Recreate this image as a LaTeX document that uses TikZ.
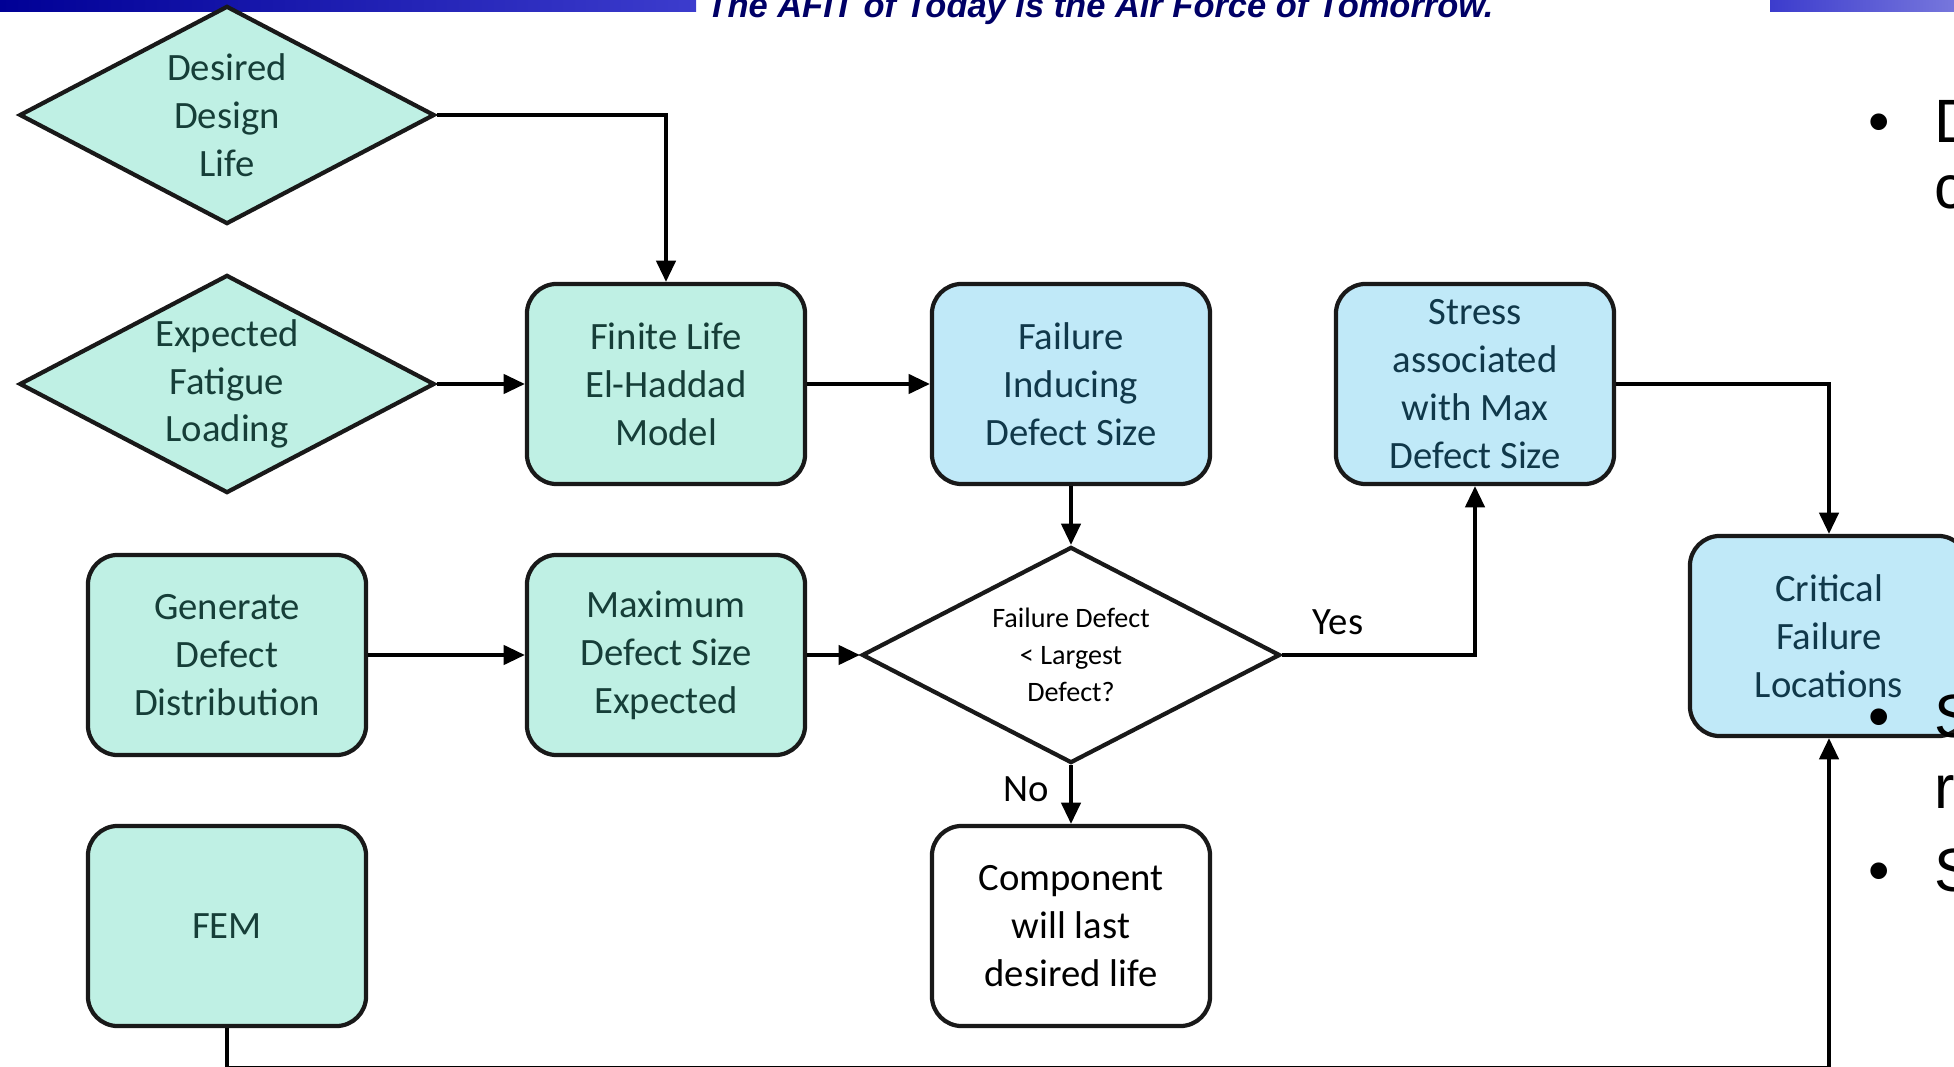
\documentclass[tikz,border=0pt]{standalone}
\usepackage{fontspec}
\setmainfont{Carlito}
\newfontfamily\slidefont{Liberation Sans}
\usetikzlibrary{shapes.geometric, arrows.meta, positioning}
\definecolor{inputteal}{RGB}{191, 240, 228}
\definecolor{resultblue}{RGB}{192, 233, 248}
\definecolor{tealtext}{RGB}{22, 62, 56}
\definecolor{bluetext}{RGB}{16, 56, 74}
\definecolor{bannernavy}{RGB}{0, 0, 102}
\definecolor{barleft}{RGB}{0, 0, 150}
\definecolor{barright}{RGB}{60, 60, 205}

\begin{document}
\begin{tikzpicture}[x=0.01cm, y=-0.01cm,
  tbox/.style={draw=black!90, line width=1.2pt, fill=inputteal, rounded corners=8.5pt, minimum width=2.78cm, minimum height=2cm, align=center, text=tealtext, font=\fontsize{11}{13.6}\selectfont, inner sep=2pt},
  bbox/.style={tbox, fill=resultblue, text=bluetext},
  wbox/.style={tbox, fill=white, text=black},
  tdiam/.style={diamond, aspect=1.9, draw=black!90, line width=1.2pt, fill=inputteal, minimum width=4.15cm, minimum height=2.18cm, inner sep=0pt, align=center, text=tealtext, font=\fontsize{11}{13.6}\selectfont},
  qdiam/.style={tdiam, fill=white, text=black, aspect=1.94, minimum width=4.18cm, minimum height=2.16cm, font=\fontsize{8}{10.5}\selectfont},
  arr/.style={-{Triangle[length=6pt, width=5.5pt]}, line width=0.9pt},
  edge/.style={font=\fontsize{11}{13.6}\selectfont, inner sep=1pt},
  slidetext/.style={anchor=base west, inner sep=0pt, font=\slidefont\fontsize{17.4}{20}\selectfont},
  slidedot/.style={anchor=base, inner sep=0pt, font=\slidefont\fontsize{17.4}{20}\selectfont}
]
  \useasboundingbox (0,0) rectangle (1954,1067);

  \shade[left color=barleft, right color=barright] (0,0) rectangle (696,12);
  \shade[left color=barright, right color=barright!70!white] (1770,0) rectangle (1954,12);
  \node[anchor=base, inner sep=0pt, text=bannernavy, font=\slidefont\bfseries\itshape\fontsize{9.8}{11}\selectfont] (motto) at (1100,18) {The AFIT of Today is the Air Force of Tomorrow.};

  \node[tdiam] (desired) at (227,115) {Desired\\Design\\Life};
  \node[tdiam] (fatigue) at (227,384) {Expected\\Fatigue\\Loading};
  \node[tbox] (finitelife) at (666,384) {Finite Life\\El-Haddad\\Model};
  \node[bbox] (failuresize) at (1071,384) {Failure\\Inducing\\Defect Size};
  \node[bbox] (stressmax) at (1475,384) {Stress\\associated\\with Max\\Defect Size};
  \node[bbox] (critical) at (1829,636) {Critical\\Failure\\Locations};

  \node[tbox] (generate) at (227,655) {Generate\\Defect\\Distribution};
  \node[tbox] (maxdefect) at (666,655) {Maximum\\Defect Size\\Expected};
  \node[qdiam] (check) at (1071,655) {Failure Defect\\< Largest\\Defect?};

  \node[tbox] (fem) at (227,926) {FEM};
  \node[wbox] (lastlife) at (1071,926) {Component\\will last\\desired life};

  \draw[arr] (desired.east) -| (finitelife.north);
  \draw[arr] (fatigue.east) -- (finitelife.west);
  \draw[arr] (finitelife.east) -- (failuresize.west);
  \draw[arr] (failuresize.south) -- (check.north);
  \draw[arr] (generate.east) -- (maxdefect.west);
  \draw[arr] (maxdefect.east) -- (check.west);
  \draw[arr] (check.east) -| (stressmax.south);
  \draw[arr] (check.south) -- (lastlife.north);
  \draw[arr] (stressmax.east) -| (critical.north);
  \draw[arr] (fem.south) -- ++(0,39) -| (critical.south);

  \node[edge] (yes) at (1338,622) {Yes};
  \node[edge] (no) at (1026,789) {No};

  \node[slidedot] (dotone) at (1879,143) {•};
  \node[slidetext] (lineone) at (1934,143) {D};
  \node[slidetext] (linetwo) at (1934,209) {c};
  \node[slidedot] (dottwo) at (1879,738) {•};
  \node[slidetext] (linethree) at (1934,738) {S};
  \node[slidetext] (linefour) at (1934,808) {r};
  \node[slidedot] (dotthree) at (1879,891) {•};
  \node[slidetext] (linefive) at (1934,891) {S};
\end{tikzpicture}
\end{document}
